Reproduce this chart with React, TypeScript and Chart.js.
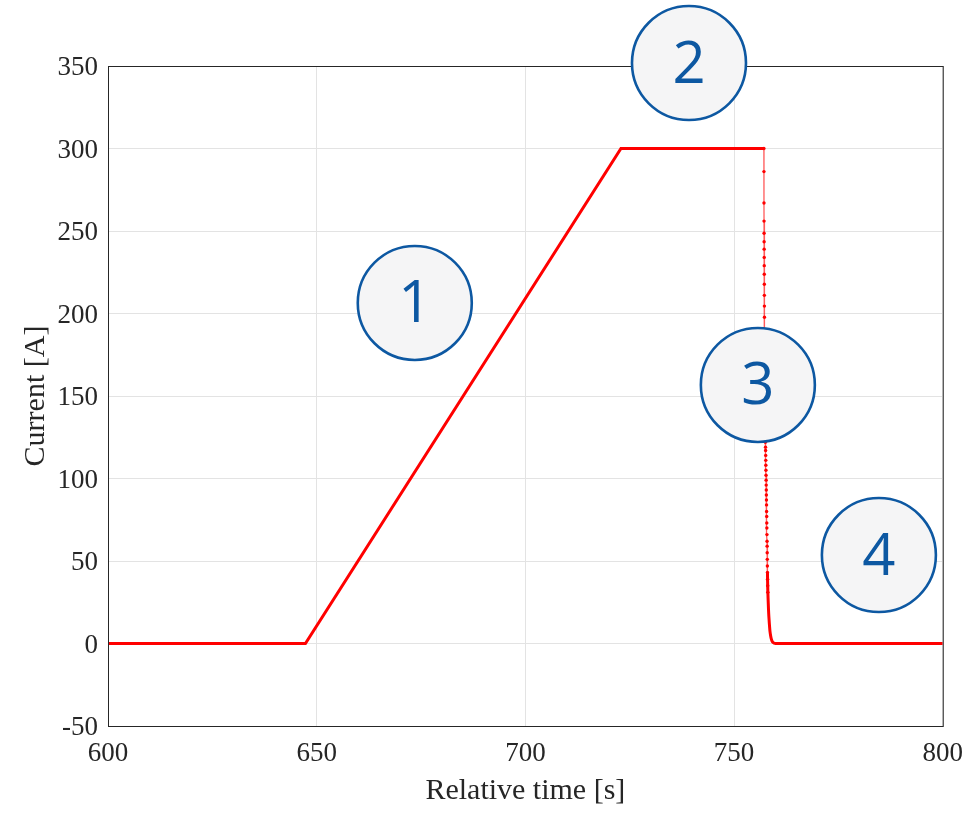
import React, { useEffect, useRef } from "react";
import { Chart, registerables } from "chart.js";

Chart.register(...registerables);

// Ramp up and flat top of the current profile (time [s], current [A])
const rampTime = [600, 647.3, 722.9, 757.15];
const rampCurrent = [0, 0, 300, 300];

// Fast discharge, sampled densely (time [s], current [A])
const dropTime = [
  757.15, 757.16, 757.17, 757.18, 757.19, 757.2, 757.21, 757.22, 757.23, 757.24,
  757.25, 757.26, 757.27, 757.28, 757.3, 757.32, 757.34, 757.36, 757.38, 757.4,
  757.42, 757.44, 757.46, 757.5, 757.54, 757.56, 757.58, 757.6, 757.62, 757.64,
  757.66, 757.68, 757.7, 757.72, 757.74, 757.76, 757.78, 757.8, 757.82, 757.84,
  757.86, 757.88, 757.9, 757.92, 757.94, 757.96, 757.98, 758.0, 758.03, 758.06, 758.1,
];
const dropCurrent = [
  300, 286, 267, 256, 248.6, 243.5, 239, 234, 229, 223.8,
  217.7, 211, 204.5, 197.7, 190, 182, 174, 166, 158, 150,
  143, 136, 129, 122, 119, 117, 114, 111, 108, 105,
  102, 99, 96, 93, 90, 87, 84, 80, 77, 73,
  70, 66, 62, 59, 55, 51, 47, 43, 39, 35, 31,
];

// Tail of the discharge settling to zero
const tailTime = [758.0, 758.1, 758.2, 758.3, 758.4, 758.5, 758.6, 758.75, 758.9, 759.1, 759.35, 759.6, 759.9, 800];
const tailCurrent = [43, 31, 24, 18, 14, 10.5, 7.5, 4.8, 3, 1.5, 0.6, 0.2, 0, 0];

// Numbered phase markers placed in data coordinates
const phaseLabels = ["1", "2", "3", "4"];
const phaseTime = [673.5, 739.2, 755.7, 784.7];
const phaseCurrent = [206.4, 351.8, 156.7, 53.6];

const xTicks = [600, 650, 700, 750, 800];
const yTicks = [-50, 0, 50, 100, 150, 200, 250, 300, 350];

const toPoints = (xs: number[], ys: number[]) => xs.map((x, i) => ({ x, y: ys[i] }));

const frameAndMarkers = {
  id: "frameAndMarkers",
  afterDatasetsDraw(chart: any) {
    const { ctx, chartArea, scales } = chart;
    ctx.save();
    ctx.strokeStyle = "#262626";
    ctx.lineWidth = 1;
    ctx.strokeRect(chartArea.left + 0.5, chartArea.top + 0.5, chartArea.right - chartArea.left, chartArea.bottom - chartArea.top);
    const r = 57;
    phaseLabels.forEach((label, i) => {
      const cx = scales.x.getPixelForValue(phaseTime[i]);
      const cy = scales.y.getPixelForValue(phaseCurrent[i]);
      ctx.beginPath();
      ctx.arc(cx, cy, r, 0, Math.PI * 2);
      ctx.fillStyle = "#f5f5f6";
      ctx.fill();
      ctx.lineWidth = 2.6;
      ctx.strokeStyle = "#0d58a2";
      ctx.stroke();
      ctx.fillStyle = "#0d58a2";
      ctx.font = '58px "Open Sans", "Noto Sans", sans-serif';
      ctx.textAlign = "center";
      ctx.textBaseline = "middle";
      ctx.fillText(label, cx, cy + 3);
    });
    ctx.restore();
  },
};

export default function App() {
  const canvasRef = useRef<HTMLCanvasElement | null>(null);

  useEffect(() => {
    if (!canvasRef.current) return;
    const serif = '"Liberation Serif", "Times New Roman", serif';
    const tickFont = { family: serif, size: 27 };
    const chart = new Chart(canvasRef.current, {
      type: "line",
      data: {
        datasets: [
          {
            data: toPoints(rampTime, rampCurrent),
            borderColor: "#ff0000",
            borderWidth: 3,
            pointRadius: 0,
            tension: 0,
          },
          {
            data: toPoints(dropTime, dropCurrent),
            borderColor: "rgba(255,0,0,0.65)",
            borderWidth: 1.3,
            pointRadius: 1.7,
            pointBorderWidth: 0,
            pointBackgroundColor: "#ff0000",
            tension: 0,
          },
          {
            data: toPoints(tailTime, tailCurrent),
            borderColor: "#ff0000",
            borderWidth: 3,
            pointRadius: 0,
            tension: 0.3,
          },
        ],
      },
      options: {
        responsive: false,
        animation: false,
        parsing: false,
        layout: { padding: { left: 0, right: 32, top: 66, bottom: 0 } },
        plugins: { legend: { display: false }, tooltip: { enabled: false } },
        scales: {
          x: {
            type: "linear",
            min: 600,
            max: 800,
            afterFit: (s: any) => { s.height = 88; },
            afterBuildTicks: (s: any) => { s.ticks = xTicks.map((v) => ({ value: v })); },
            grid: { color: "#e3e3e3", drawTicks: false },
            border: { display: false },
            ticks: { font: tickFont, color: "#262626", padding: 12 },
            title: {
              display: true,
              text: "Relative time [s]",
              font: { family: serif, size: 30 },
              color: "#262626",
              padding: { top: 0, bottom: 5 },
            },
          },
          y: {
            type: "linear",
            min: -50,
            max: 350,
            afterFit: (s: any) => { s.width = 108; },
            afterBuildTicks: (s: any) => { s.ticks = yTicks.map((v) => ({ value: v })); },
            grid: { color: "#e3e3e3", drawTicks: false },
            border: { display: false },
            ticks: { font: tickFont, color: "#262626", padding: 10, labelOffset: 2 },
            title: {
              display: true,
              text: "Current [A]",
              font: { family: serif, size: 30 },
              color: "#262626",
              padding: { top: 18, bottom: 0 },
            },
          },
        },
      },
      plugins: [frameAndMarkers],
    });
    return () => chart.destroy();
  }, []);

  return (
    <div style={{ position: "fixed", left: 0, top: 0, width: 975, height: 814, background: "#fff" }}>
      <canvas ref={canvasRef} width={975} height={814} />
    </div>
  );
}
